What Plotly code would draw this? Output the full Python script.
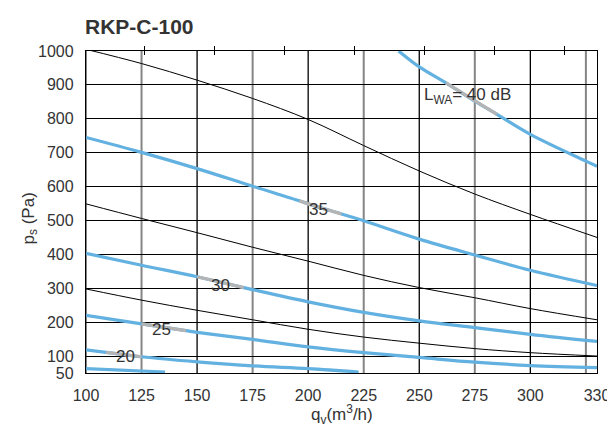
import plotly.graph_objects as go

# axes / ticks
x_ticks = [100, 125, 150, 175, 200, 225, 250, 275, 300, 330]
y_ticks = [50, 100, 200, 300, 400, 500, 600, 700, 800, 900, 1000]
grid_gray = [100, 125, 175, 225, 275, 325]
grid_black = [150, 200, 250, 300]
top_ticks = [126.3, 157.8, 189.3, 220.8, 252.3, 283.8, 315.3]

# thin black system curves
black1_x = [100, 125, 150, 175, 200, 225, 250, 275, 300, 330]
black1_y = [1005, 963, 914, 860, 798, 721, 646, 578, 518, 450]
black2_x = [100, 125, 150, 175, 200, 225, 250, 275, 300, 330]
black2_y = [549, 506, 464, 421, 380, 338, 302, 272, 240, 207]
black3_x = [100, 125, 150, 175, 200, 225, 250, 275, 300, 330]
black3_y = [298, 265, 235, 207, 179, 156, 138, 122, 110, 100]

# sound level curves (LWA)
lwa40_x = [240.7, 250, 262, 275, 285, 300, 325, 330]
lwa40_y = [1000, 953, 906, 852, 813, 754, 675, 660]
lwa35_x = [100, 125, 150, 175, 196, 200, 215, 225, 250, 275, 300, 330]
lwa35_y = [745, 701, 653, 601, 558, 549, 519, 499, 445, 398, 353, 308]
lwa30_x = [100, 125, 150, 171, 175, 200, 225, 250, 275, 300, 330]
lwa30_y = [403, 368, 334, 302, 296, 260, 229, 204, 184, 164, 143]
lwa25_x = [100, 125, 145, 150, 175, 200, 225, 250, 275, 300, 330]
lwa25_y = [220, 195, 175, 170, 149, 127, 110, 96, 82, 72, 66]
lwa20_x = [100, 109, 125, 150, 175, 200, 222.7]
lwa20_y = [118, 111, 98, 83, 71, 63, 53]
lwa15_x = [100, 135.6]
lwa15_y = [63, 53]

# label text, label position, span of the grey part of the curve
labels = ["L<sub>WA</sub>= 40 dB", "35", "30", "25", "20"]
label_x = [251.4, 204.6, 160.6, 134.1, 118]
label_y = [867, 531, 307, 177, 99]
grey_from = [262, 196, 150, 125, 109]
grey_to = [285, 215, 171, 145, 125]

FONT = "Liberation Sans, Arial, sans-serif"
BLUE = "#62b1e0"
GREY = "#b4b4b4"
TXT = "#333333"

fig = go.Figure()

for bx, by in [(black1_x, black1_y), (black2_x, black2_y), (black3_x, black3_y)]:
    fig.add_trace(go.Scatter(x=bx, y=by, mode="lines", line_shape="spline",
                             line=dict(color="black", width=1),
                             hoverinfo="skip", showlegend=False))

blue_curves = [(lwa40_x, lwa40_y), (lwa35_x, lwa35_y), (lwa30_x, lwa30_y),
               (lwa25_x, lwa25_y), (lwa20_x, lwa20_y), (lwa15_x, lwa15_y)]
for i, (cx, cy) in enumerate(blue_curves):
    fig.add_trace(go.Scatter(x=cx, y=cy, mode="lines", line_shape="spline",
                             line=dict(color=BLUE, width=3.2),
                             hoverinfo="skip", showlegend=False))
    if i < len(labels):
        gx = [x for x in cx if grey_from[i] <= x <= grey_to[i]]
        gy = [y for x, y in zip(cx, cy) if grey_from[i] <= x <= grey_to[i]]
        fig.add_trace(go.Scatter(x=gx, y=gy, mode="lines",
                                 line=dict(color=GREY, width=3.2),
                                 hoverinfo="skip", showlegend=False))

# dummy traces so the top tick axes get drawn
fig.add_trace(go.Scatter(x=[100], y=[50], xaxis="x2", mode="markers",
                         marker=dict(opacity=0), hoverinfo="skip", showlegend=False))
fig.add_trace(go.Scatter(x=[100], y=[50], xaxis="x3", mode="markers",
                         marker=dict(opacity=0), hoverinfo="skip", showlegend=False))

for v in grid_gray:
    fig.add_shape(type="line", x0=v, x1=v, y0=0, y1=1, yref="paper",
                  line=dict(color="#858585", width=2), layer="below")
for v in grid_black:
    fig.add_shape(type="line", x0=v, x1=v, y0=0, y1=1, yref="paper",
                  line=dict(color="black", width=1.3), layer="below")

for i, t in enumerate(labels):
    fig.add_annotation(x=label_x[i], y=label_y[i], text=t, showarrow=False,
                       xanchor="left" if i == 0 else "center",
                       font=dict(family=FONT, size=17, color=TXT))

fig.add_annotation(x=0, y=1, xref="paper", yref="paper", text="<b>RKP-C-100</b>",
                   showarrow=False, xanchor="left", yanchor="bottom", yshift=11,
                   xshift=-3, font=dict(family=FONT, size=21, color=TXT))
fig.add_annotation(x=0.5, y=0, xref="paper", yref="paper",
                   text="q<sub>v</sub>(m<sup>3</sup>/h)", showarrow=False,
                   yanchor="middle", yshift=-41,
                   font=dict(family=FONT, size=17, color=TXT))
fig.add_annotation(x=0, y=0.48, xref="paper", yref="paper",
                   text="p<sub>s</sub> (Pa)", showarrow=False, textangle=-90,
                   xanchor="center", xshift=-56,
                   font=dict(family=FONT, size=17, color=TXT))

# page body adds an 8 px offset, so the figure is a bit smaller than the window
fig.update_layout(
    width=607, height=418,
    margin=dict(l=78, r=18, t=43, b=53, autoexpand=False),
    paper_bgcolor="white", plot_bgcolor="white",
    font=dict(family=FONT, size=16, color=TXT),
    xaxis=dict(range=[100, 330], tickvals=x_ticks, showgrid=False, zeroline=False,
               showline=True, linecolor="black", linewidth=1.3, mirror=True,
               ticks="", tickangle=0, ticklabelstandoff=8, automargin=False),
    xaxis2=dict(range=[100, 330], overlaying="x", side="top", tickvals=top_ticks,
                ticks="outside", ticklen=4, tickcolor="black", showticklabels=False,
                showgrid=False, zeroline=False, showline=False),
    xaxis3=dict(range=[100, 330], overlaying="x", side="top", tickvals=top_ticks,
                ticks="inside", ticklen=4, tickcolor="black", showticklabels=False,
                showgrid=False, zeroline=False, showline=False),
    yaxis=dict(range=[50, 1000], tickvals=y_ticks, showgrid=True, gridcolor="black",
               gridwidth=1.2, zeroline=False, showline=True, linecolor="black",
               linewidth=1.3, mirror=True, ticks="", ticklabelstandoff=8,
               automargin=False),
)

fig.write_html("out.html")
